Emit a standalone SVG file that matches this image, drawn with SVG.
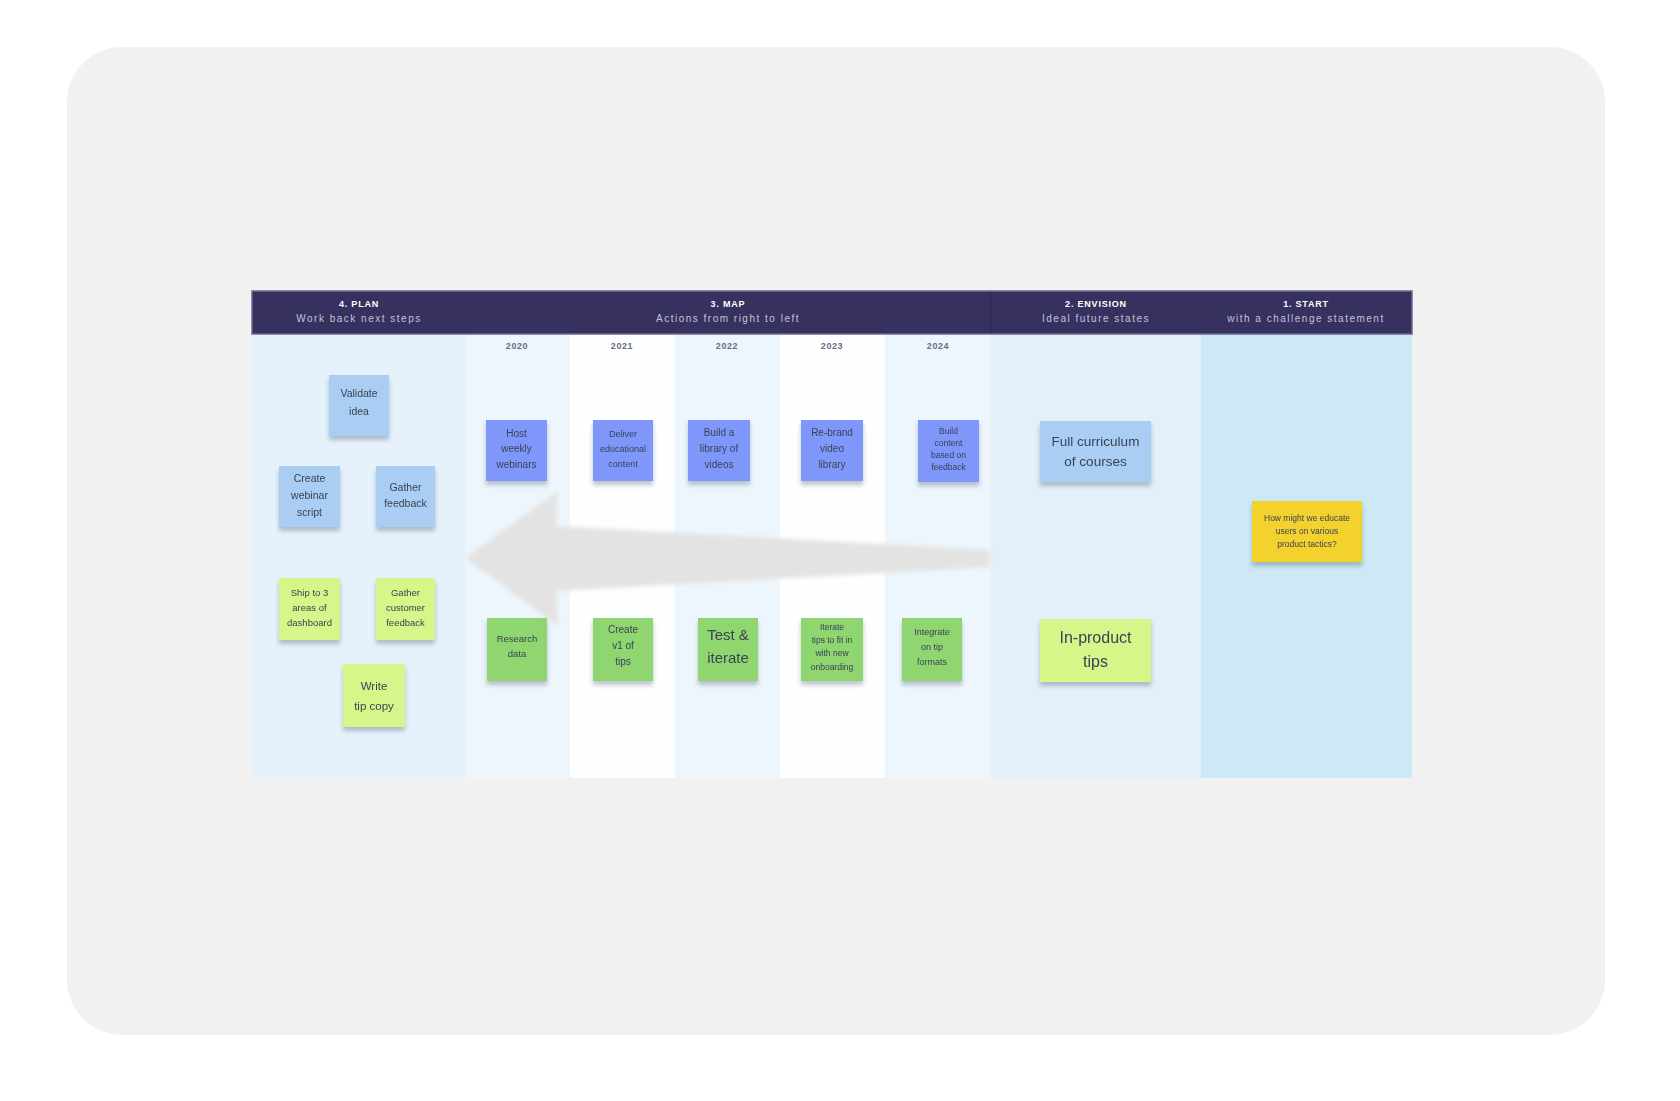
<svg xmlns="http://www.w3.org/2000/svg" width="1680" height="1101" viewBox="0 0 1680 1101">
<defs>
<filter id="sh" x="-20%" y="-20%" width="140%" height="150%">
<feDropShadow dx="0" dy="4" stdDeviation="2.2" flood-color="#203040" flood-opacity="0.28"/>
</filter>
<filter id="soft" x="-5%" y="-20%" width="110%" height="140%">
<feGaussianBlur stdDeviation="2"/>
</filter>
</defs>
<style>
.hd{font-family:"Liberation Sans",Arial,sans-serif;font-weight:bold;font-size:9px;fill:#ffffff;letter-spacing:0.8px;text-anchor:middle}
.sub{font-family:"Liberation Sans",Arial,sans-serif;font-size:10px;fill:#c4c2dc;letter-spacing:1.5px;text-anchor:middle}
.yr{font-family:"Liberation Sans",Arial,sans-serif;font-weight:bold;font-size:9px;fill:#6c6a8c;letter-spacing:0.6px;text-anchor:middle}
.t{font-family:"Liberation Sans",Arial,sans-serif;fill:#3a4354;text-anchor:middle}
.lb{fill:#a9cdf3}
.bl{fill:#7f96fa}
.gr{fill:#8fd570}
.yg{fill:#d8f58a}
.ye{fill:#f4d22f}
</style>
<rect x="0" y="0" width="1680" height="1101" fill="#ffffff"/>
<rect x="67" y="47" width="1538" height="988" rx="55" fill="#f1f1f1"/>

<!-- board columns -->
<g id="board">
<rect x="252" y="334" width="213" height="444" fill="#e6f2fb"/>
<rect x="465" y="334" width="105" height="444" fill="#edf6fc"/>
<rect x="570" y="334" width="105" height="444" fill="#fdfeff"/>
<rect x="675" y="334" width="105" height="444" fill="#edf6fc"/>
<rect x="780" y="334" width="105" height="444" fill="#fdfeff"/>
<rect x="885" y="334" width="106" height="444" fill="#edf6fc"/>
<rect x="991" y="334" width="210" height="444" fill="#e2f0f9"/>
<rect x="1201" y="334" width="211" height="444" fill="#cde9f5"/>
</g>

<!-- header -->
<g id="header">
<rect x="252" y="291" width="1160" height="43" fill="#36315f" stroke="#6c6990" stroke-width="1.5"/>
<line x1="991" y1="292" x2="991" y2="333" stroke="#2c2852" stroke-width="1"/>
<text class="hd" x="359" y="307">4. PLAN</text>
<text class="sub" x="359" y="322">Work back next steps</text>
<text class="hd" x="728" y="307">3. MAP</text>
<text class="sub" x="728" y="322">Actions from right to left</text>
<text class="hd" x="1096" y="307">2. ENVISION</text>
<text class="sub" x="1096" y="322">Ideal future states</text>
<text class="hd" x="1306" y="307">1. START</text>
<text class="sub" x="1306" y="322">with a challenge statement</text>
</g>

<g id="years">
<text class="yr" x="517" y="349">2020</text>
<text class="yr" x="622" y="349">2021</text>
<text class="yr" x="727" y="349">2022</text>
<text class="yr" x="832" y="349">2023</text>
<text class="yr" x="938" y="349">2024</text>
</g>

<!-- connector: big arrow -->
<g id="connectors">
<polygon points="465,558 558,491 556,526 990,550 990,567 556,591 558,626" fill="#e3e3e3" filter="url(#soft)"/>
</g>

<!-- Plan notes -->
<g id="n-validate" filter="url(#sh)"><rect class="lb" x="329" y="375" width="60" height="61"/>
<text class="t" font-size="10.5"><tspan x="359" y="397">Validate</tspan><tspan x="359" y="415">idea</tspan></text></g>
<g id="n-webinar-script" filter="url(#sh)"><rect class="lb" x="279" y="466" width="61" height="61"/>
<text class="t" font-size="10.5"><tspan x="309.5" y="482">Create</tspan><tspan x="309.5" y="499">webinar</tspan><tspan x="309.5" y="516">script</tspan></text></g>
<g id="n-gather-feedback" filter="url(#sh)"><rect class="lb" x="376" y="466" width="59" height="61"/>
<text class="t" font-size="10.5"><tspan x="405.5" y="491">Gather</tspan><tspan x="405.5" y="507">feedback</tspan></text></g>
<g id="n-ship" filter="url(#sh)"><rect class="yg" x="279" y="578" width="61" height="62"/>
<text class="t" font-size="9.5"><tspan x="309.5" y="596">Ship to 3</tspan><tspan x="309.5" y="611">areas of</tspan><tspan x="309.5" y="626">dashboard</tspan></text></g>
<g id="n-customer-feedback" filter="url(#sh)"><rect class="yg" x="376" y="578" width="59" height="62"/>
<text class="t" font-size="9.5"><tspan x="405.5" y="596">Gather</tspan><tspan x="405.5" y="611">customer</tspan><tspan x="405.5" y="626">feedback</tspan></text></g>
<g id="n-tip-copy" filter="url(#sh)"><rect class="yg" x="343" y="664" width="62" height="63"/>
<text class="t" font-size="11.5"><tspan x="374" y="690">Write</tspan><tspan x="374" y="710">tip copy</tspan></text></g>

<!-- Map top notes -->
<g id="n-host" filter="url(#sh)"><rect class="bl" x="486" y="420" width="61" height="61"/>
<text class="t" font-size="10"><tspan x="516.5" y="437">Host</tspan><tspan x="516.5" y="452">weekly</tspan><tspan x="516.5" y="468">webinars</tspan></text></g>
<g id="n-deliver" filter="url(#sh)"><rect class="bl" x="593" y="420" width="60" height="61"/>
<text class="t" font-size="9"><tspan x="623" y="437">Deliver</tspan><tspan x="623" y="452">educational</tspan><tspan x="623" y="467">content</tspan></text></g>
<g id="n-library" filter="url(#sh)"><rect class="bl" x="688" y="420" width="62" height="61"/>
<text class="t" font-size="10"><tspan x="719" y="436">Build a</tspan><tspan x="719" y="452">library of</tspan><tspan x="719" y="468">videos</tspan></text></g>
<g id="n-rebrand" filter="url(#sh)"><rect class="bl" x="801" y="420" width="62" height="61"/>
<text class="t" font-size="10"><tspan x="832" y="436">Re-brand</tspan><tspan x="832" y="452">video</tspan><tspan x="832" y="468">library</tspan></text></g>
<g id="n-build-content" filter="url(#sh)"><rect class="bl" x="918" y="420" width="61" height="62"/>
<text class="t" font-size="8.5"><tspan x="948.5" y="434">Build</tspan><tspan x="948.5" y="446">content</tspan><tspan x="948.5" y="458">based on</tspan><tspan x="948.5" y="470">feedback</tspan></text></g>

<!-- Map bottom notes -->
<g id="n-research" filter="url(#sh)"><rect class="gr" x="487" y="618" width="60" height="63"/>
<text class="t" font-size="9.5"><tspan x="517" y="642">Research</tspan><tspan x="517" y="657">data</tspan></text></g>
<g id="n-create-tips" filter="url(#sh)"><rect class="gr" x="593" y="618" width="60" height="63"/>
<text class="t" font-size="10"><tspan x="623" y="633">Create</tspan><tspan x="623" y="649">v1 of</tspan><tspan x="623" y="665">tips</tspan></text></g>
<g id="n-test" filter="url(#sh)"><rect class="gr" x="698" y="618" width="60" height="63"/>
<text class="t" font-size="15"><tspan x="728" y="640">Test &amp;</tspan><tspan x="728" y="663">iterate</tspan></text></g>
<g id="n-iterate-tips" filter="url(#sh)"><rect class="gr" x="801" y="618" width="62" height="63"/>
<text class="t" font-size="8.5"><tspan x="832" y="630">Iterate</tspan><tspan x="832" y="643">tips to fit in</tspan><tspan x="832" y="656">with new</tspan><tspan x="832" y="670">onboarding</tspan></text></g>
<g id="n-integrate" filter="url(#sh)"><rect class="gr" x="902" y="618" width="60" height="63"/>
<text class="t" font-size="9"><tspan x="932" y="635">Integrate</tspan><tspan x="932" y="650">on tip</tspan><tspan x="932" y="665">formats</tspan></text></g>

<!-- Envision notes -->
<g id="n-curriculum" filter="url(#sh)"><rect class="lb" x="1040" y="421" width="111" height="61"/>
<text class="t" font-size="13.5"><tspan x="1095.5" y="446">Full curriculum</tspan><tspan x="1095.5" y="466">of courses</tspan></text></g>
<g id="n-inproduct" filter="url(#sh)"><rect class="yg" x="1040" y="619" width="111" height="63"/>
<text class="t" font-size="16"><tspan x="1095.5" y="643">In-product</tspan><tspan x="1095.5" y="667">tips</tspan></text></g>

<!-- Start note -->
<g id="n-challenge" filter="url(#sh)"><rect class="ye" x="1252" y="501" width="110" height="61"/>
<text class="t" font-size="8.5" fill="#4a4420"><tspan x="1307" y="521">How might we educate</tspan><tspan x="1307" y="534">users on various</tspan><tspan x="1307" y="547">product tactics?</tspan></text></g>
</svg>
